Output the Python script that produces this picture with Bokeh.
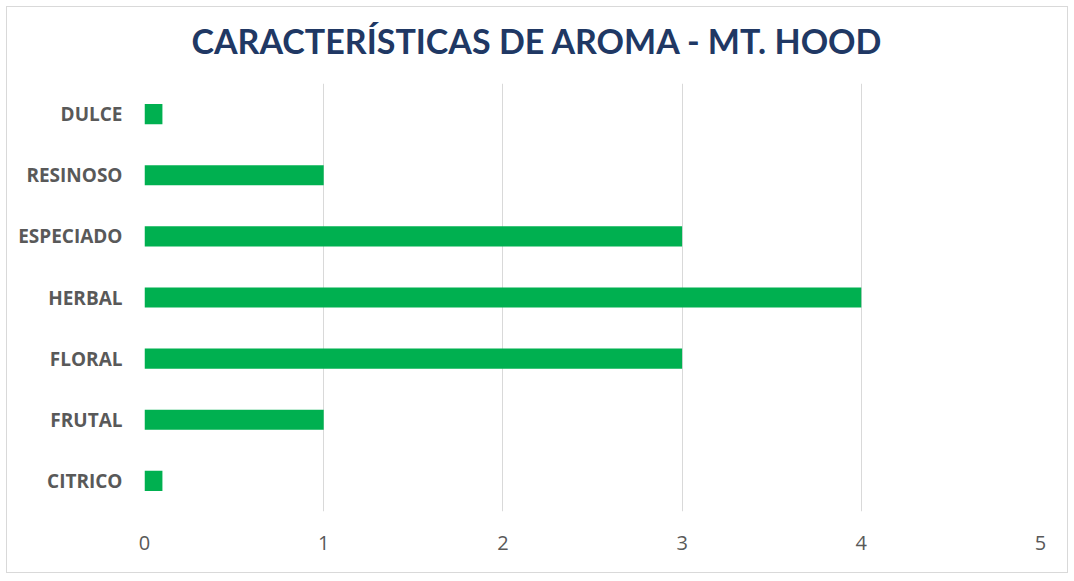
from bokeh.plotting import figure
from bokeh.models import ColumnDataSource, FixedTicker, Range1d, Title
from bokeh.embed import file_html
from bokeh.resources import INLINE

categories = ["CITRICO", "FRUTAL", "FLORAL", "HERBAL", "ESPECIADO", "RESINOSO", "DULCE"]
values = [0.1, 1, 3, 4, 3, 1, 0.1]
x_ticks = [0, 1, 2, 3, 4, 5]
title_text = "CARACTERÍSTICAS DE AROMA - MT. HOOD"

src = ColumnDataSource(dict(cat=categories, val=values))

p = figure(width=1062, height=567, y_range=categories, x_range=Range1d(0, 5),
           output_backend="svg", toolbar_location=None,
           min_border_left=137, min_border_right=29, min_border_top=76, min_border_bottom=63)
p.styles = {"border": "1px solid #D9D9D9", "margin": "6px"}

p.title.text = title_text
p.title.align = "left"
p.title.offset = 47
p.title.vertical_align = "middle"
p.title.text_font = "Lato"
p.title.text_font_style = "bold"
p.title.text_font_size = "34px"
p.title.text_color = "#203864"

spacer = Title(text=" ", text_font_size="4px")
p.add_layout(spacer, "above")

p.hbar(y="cat", right="val", left=0, height=0.33, source=src, color="#00B050", line_color=None)

p.outline_line_color = None
p.ygrid.grid_line_color = None
p.xgrid.grid_line_color = "#D9D9D9"
p.xgrid.grid_line_width = 1
p.xaxis.ticker = FixedTicker(ticks=x_ticks)
for ax in (p.xaxis[0], p.yaxis[0]):
    ax.axis_line_color = None
    ax.major_tick_line_color = None
    ax.minor_tick_line_color = None
    ax.major_label_text_color = "#595959"
    ax.major_label_text_font = "Open Sans"
p.xaxis.major_label_text_font_size = "20px"
p.xaxis.major_label_standoff = 18
p.yaxis.major_label_text_font_size = "19px"
p.yaxis.major_label_text_font_style = "bold"
p.yaxis.major_label_standoff = 16
p.y_range.range_padding = 0

open("out.html", "w").write(file_html(p, INLINE))
